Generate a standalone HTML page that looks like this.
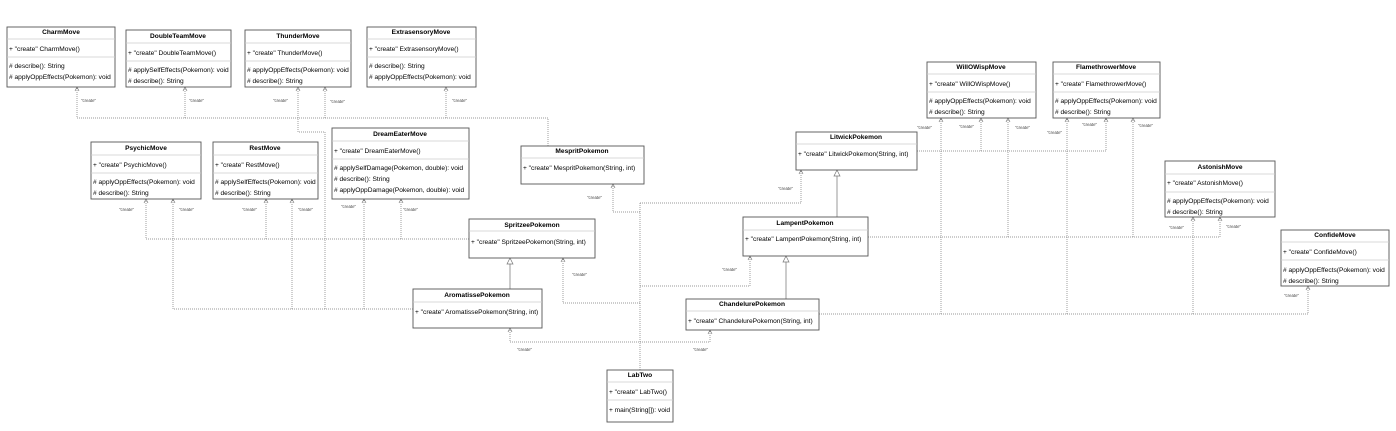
<!DOCTYPE html>
<html><head><meta charset="utf-8"><style>
html,body{margin:0;padding:0;background:#fff;}
svg{display:block;}
text{font-family:"Liberation Sans",sans-serif;font-size:6.6px;fill:#000;}
.t{font-weight:bold;text-anchor:middle;}
.c text{font-size:4.3px;fill:#444;}
.b{fill:#fff;stroke:#555;stroke-width:0.9;}
.s{stroke:#ccc;stroke-width:0.8;}
.d{fill:none;stroke:#777;stroke-width:0.7;stroke-dasharray:1,1;}
.a{fill:none;stroke:#777;stroke-width:0.7;}
.g{fill:none;stroke:#aaa;stroke-width:1.2;}
.tri{fill:#fff;stroke:#777;stroke-width:0.7;}
</style></head><body>
<svg width="1396" height="431" viewBox="0 0 1396 431" xmlns="http://www.w3.org/2000/svg">
<g class="d">
<polyline points="548,146 548,118 77,118 77,87"/>
<line x1="185" y1="118" x2="185" y2="87"/>
<line x1="446" y1="118" x2="446" y2="87"/>
<line x1="325" y1="118" x2="325" y2="87"/>
<polyline points="298,87 298,132 325,132 325,309"/>
<polyline points="469,239 146,239 146,199"/>
<line x1="266" y1="239" x2="266" y2="199"/>
<line x1="401" y1="239" x2="401" y2="199"/>
<polyline points="413,309 173,309 173,199"/>
<line x1="292" y1="309" x2="292" y2="199"/>
<line x1="364" y1="309" x2="364" y2="199"/>
<line x1="640" y1="370" x2="640" y2="203"/>
<polyline points="640,203 801,203 801,170"/>
<polyline points="640,212 613,212 613,184"/>
<polyline points="640,303 563,303 563,258"/>
<polyline points="640,286 750,286 750,256"/>
<polyline points="510,328 510,342 710,342 710,330"/>
<polyline points="917,151 1106,151 1106,118"/>
<line x1="981" y1="151" x2="981" y2="118"/>
<polyline points="868,237 1220,237 1220,217"/>
<line x1="1008" y1="237" x2="1008" y2="118"/>
<line x1="1133" y1="237" x2="1133" y2="118"/>
<polyline points="819,314 1308,314 1308,286"/>
<line x1="941" y1="314" x2="941" y2="118"/>
<line x1="1067" y1="314" x2="1067" y2="118"/>
<line x1="1193" y1="314" x2="1193" y2="217"/>
</g>
<g class="a">
<polyline points="75,91 77,87 79,91"/><polyline points="183,91 185,87 187,91"/>
<polyline points="296,91 298,87 300,91"/><polyline points="323,91 325,87 327,91"/>
<polyline points="444,91 446,87 448,91"/>
<polyline points="144,203 146,199 148,203"/><polyline points="171,203 173,199 175,203"/>
<polyline points="264,203 266,199 268,203"/><polyline points="290,203 292,199 294,203"/>
<polyline points="362,203 364,199 366,203"/><polyline points="399,203 401,199 403,203"/>
<polyline points="611,188 613,184 615,188"/><polyline points="561,262 563,258 565,262"/>
<polyline points="508,332 510,328 512,332"/><polyline points="708,334 710,330 712,334"/>
<polyline points="748,260 750,256 752,260"/><polyline points="799,174 801,170 803,174"/>
<polyline points="939,122 941,118 943,122"/><polyline points="979,122 981,118 983,122"/>
<polyline points="1006,122 1008,118 1010,122"/><polyline points="1065,122 1067,118 1069,122"/>
<polyline points="1104,122 1106,118 1108,122"/><polyline points="1131,122 1133,118 1135,122"/>
<polyline points="1191,221 1193,217 1195,221"/><polyline points="1218,221 1220,217 1222,221"/>
<polyline points="1306,290 1308,286 1310,290"/>
</g>
<g class="g">
<line x1="510" y1="289" x2="510" y2="264"/>
<line x1="786" y1="299" x2="786" y2="262"/>
<line x1="837" y1="217" x2="837" y2="176"/>
</g>
<polygon class="tri" points="510,258 507,264 513,264"/>
<polygon class="tri" points="786,256 783,262 789,262"/>
<polygon class="tri" points="837,170 834,176 840,176"/>
<g class="c">
<text x="81" y="102">"create"</text><text x="189" y="102">"create"</text>
<text x="273" y="102">"create"</text><text x="330" y="103">"create"</text>
<text x="452" y="102">"create"</text>
<text x="119" y="211">"create"</text><text x="179" y="211">"create"</text>
<text x="242" y="211">"create"</text><text x="298" y="211">"create"</text>
<text x="341" y="208">"create"</text><text x="403" y="211">"create"</text>
<text x="587" y="199">"create"</text><text x="572" y="276">"create"</text>
<text x="517" y="351">"create"</text><text x="693" y="351">"create"</text>
<text x="722" y="271">"create"</text><text x="778" y="190">"create"</text>
<text x="917" y="129">"create"</text><text x="959" y="128">"create"</text>
<text x="1015" y="129">"create"</text><text x="1047" y="134">"create"</text>
<text x="1082" y="126">"create"</text><text x="1138" y="127">"create"</text>
<text x="1169" y="229">"create"</text><text x="1226" y="228">"create"</text>
<text x="1284" y="297">"create"</text>
</g>
<g>
<rect class="b" x="7" y="27" width="108" height="60"/><text class="t" x="61" y="34">CharmMove</text>
<line class="s" x1="7" y1="39" x2="115" y2="39"/><text x="9" y="51">+ "create" CharmMove()</text>
<line class="s" x1="7" y1="57" x2="115" y2="57"/><text x="9" y="68">#  describe(): String</text><text x="9" y="79">#  applyOppEffects(Pokemon): void</text>
</g>
<g>
<rect class="b" x="126" y="30" width="105" height="57"/><text class="t" x="178" y="38">DoubleTeamMove</text>
<line class="s" x1="126" y1="43" x2="231" y2="43"/><text x="128" y="55">+ "create" DoubleTeamMove()</text>
<line class="s" x1="126" y1="61" x2="231" y2="61"/><text x="128" y="72">#  applySelfEffects(Pokemon): void</text><text x="128" y="83">#  describe(): String</text>
</g>
<g>
<rect class="b" x="245" y="30" width="106" height="57"/><text class="t" x="298" y="38">ThunderMove</text>
<line class="s" x1="245" y1="43" x2="351" y2="43"/><text x="247" y="55">+ "create" ThunderMove()</text>
<line class="s" x1="245" y1="61" x2="351" y2="61"/><text x="247" y="72">#  applyOppEffects(Pokemon): void</text><text x="247" y="83">#  describe(): String</text>
</g>
<g>
<rect class="b" x="367" y="27" width="109" height="60"/><text class="t" x="421" y="34">ExtrasensoryMove</text>
<line class="s" x1="367" y1="39" x2="476" y2="39"/><text x="369" y="51">+ "create" ExtrasensoryMove()</text>
<line class="s" x1="367" y1="57" x2="476" y2="57"/><text x="369" y="68">#  describe(): String</text><text x="369" y="79">#  applyOppEffects(Pokemon): void</text>
</g>
<g>
<rect class="b" x="91" y="142" width="110" height="57"/><text class="t" x="146" y="150">PsychicMove</text>
<line class="s" x1="91" y1="155" x2="201" y2="155"/><text x="93" y="167">+ "create" PsychicMove()</text>
<line class="s" x1="91" y1="173" x2="201" y2="173"/><text x="93" y="184">#  applyOppEffects(Pokemon): void</text><text x="93" y="195">#  describe(): String</text>
</g>
<g>
<rect class="b" x="213" y="142" width="105" height="57"/><text class="t" x="265" y="150">RestMove</text>
<line class="s" x1="213" y1="155" x2="318" y2="155"/><text x="215" y="167">+ "create" RestMove()</text>
<line class="s" x1="213" y1="173" x2="318" y2="173"/><text x="215" y="184">#  applySelfEffects(Pokemon): void</text><text x="215" y="195">#  describe(): String</text>
</g>
<g>
<rect class="b" x="332" y="128" width="137" height="71"/><text class="t" x="400" y="136">DreamEaterMove</text>
<line class="s" x1="332" y1="141" x2="469" y2="141"/><text x="334" y="153">+ "create" DreamEaterMove()</text>
<line class="s" x1="332" y1="159" x2="469" y2="159"/><text x="334" y="170">#  applySelfDamage(Pokemon, double): void</text><text x="334" y="181">#  describe(): String</text><text x="334" y="192">#  applyOppDamage(Pokemon, double): void</text>
</g>
<g>
<rect class="b" x="521" y="146" width="123" height="38"/><text class="t" x="582" y="153">MespritPokemon</text>
<line class="s" x1="521" y1="158" x2="644" y2="158"/><text x="523" y="170">+ "create" MespritPokemon(String, int)</text>
</g>
<g>
<rect class="b" x="469" y="219" width="126" height="39"/><text class="t" x="532" y="227">SpritzeePokemon</text>
<line class="s" x1="469" y1="231" x2="595" y2="231"/><text x="471" y="244">+ "create" SpritzeePokemon(String, int)</text>
</g>
<g>
<rect class="b" x="413" y="289" width="129" height="39"/><text class="t" x="477" y="297">AromatissePokemon</text>
<line class="s" x1="413" y1="302" x2="542" y2="302"/><text x="415" y="314">+ "create" AromatissePokemon(String, int)</text>
</g>
<g>
<rect class="b" x="607" y="370" width="66" height="52"/><text class="t" x="640" y="377">LabTwo</text>
<line class="s" x1="607" y1="382" x2="673" y2="382"/><text x="609" y="394">+ "create" LabTwo()</text>
<line class="s" x1="607" y1="400" x2="673" y2="400"/><text x="609" y="412">+ main(String[]): void</text>
</g>
<g>
<rect class="b" x="796" y="132" width="121" height="38"/><text class="t" x="856" y="139">LitwickPokemon</text>
<line class="s" x1="796" y1="144" x2="917" y2="144"/><text x="798" y="156">+ "create" LitwickPokemon(String, int)</text>
</g>
<g>
<rect class="b" x="743" y="217" width="125" height="39"/><text class="t" x="805" y="225">LampentPokemon</text>
<line class="s" x1="743" y1="230" x2="868" y2="230"/><text x="745" y="241">+ "create" LampentPokemon(String, int)</text>
</g>
<g>
<rect class="b" x="686" y="299" width="133" height="31"/><text class="t" x="752" y="306">ChandelurePokemon</text>
<line class="s" x1="686" y1="311" x2="819" y2="311"/><text x="688" y="323">+ "create" ChandelurePokemon(String, int)</text>
</g>
<g>
<rect class="b" x="927" y="62" width="109" height="56"/><text class="t" x="981" y="69">WillOWispMove</text>
<line class="s" x1="927" y1="74" x2="1036" y2="74"/><text x="929" y="86">+ "create" WillOWispMove()</text>
<line class="s" x1="927" y1="92" x2="1036" y2="92"/><text x="929" y="103">#  applyOppEffects(Pokemon): void</text><text x="929" y="114">#  describe(): String</text>
</g>
<g>
<rect class="b" x="1053" y="62" width="107" height="56"/><text class="t" x="1106" y="69">FlamethrowerMove</text>
<line class="s" x1="1053" y1="74" x2="1160" y2="74"/><text x="1055" y="86">+ "create" FlamethrowerMove()</text>
<line class="s" x1="1053" y1="92" x2="1160" y2="92"/><text x="1055" y="103">#  applyOppEffects(Pokemon): void</text><text x="1055" y="114">#  describe(): String</text>
</g>
<g>
<rect class="b" x="1165" y="161" width="110" height="56"/><text class="t" x="1220" y="169">AstonishMove</text>
<line class="s" x1="1165" y1="174" x2="1275" y2="174"/><text x="1167" y="185">+ "create" AstonishMove()</text>
<line class="s" x1="1165" y1="192" x2="1275" y2="192"/><text x="1167" y="203">#  applyOppEffects(Pokemon): void</text><text x="1167" y="214">#  describe(): String</text>
</g>
<g>
<rect class="b" x="1281" y="230" width="108" height="56"/><text class="t" x="1335" y="237">ConfideMove</text>
<line class="s" x1="1281" y1="242" x2="1389" y2="242"/><text x="1283" y="254">+ "create" ConfideMove()</text>
<line class="s" x1="1281" y1="260" x2="1389" y2="260"/><text x="1283" y="272">#  applyOppEffects(Pokemon): void</text><text x="1283" y="283">#  describe(): String</text>
</g>
</svg>
</body></html>
